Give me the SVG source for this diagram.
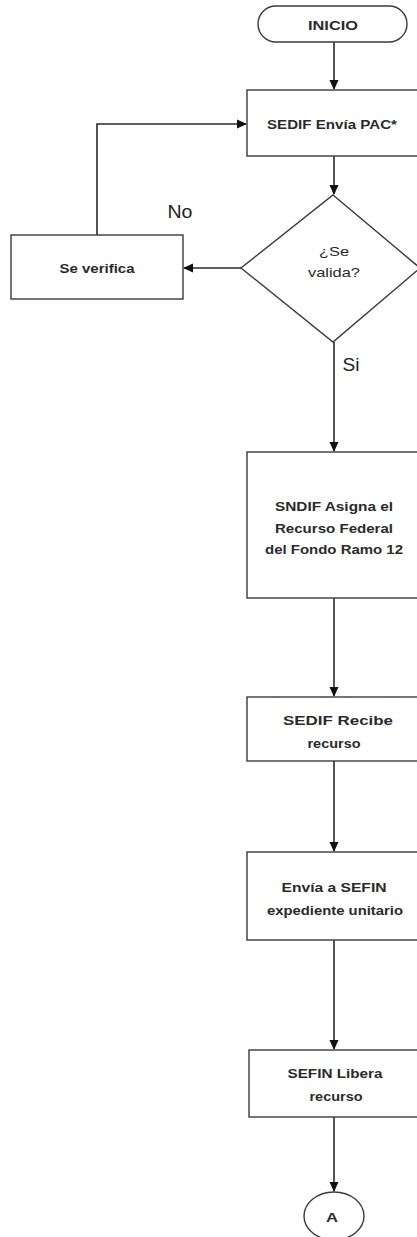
<svg xmlns="http://www.w3.org/2000/svg" width="417" height="1237" viewBox="0 0 417 1237">
<style>
.n{fill:#fff;stroke:#3a3a3a;stroke-width:1.4}
.t{font-family:"Liberation Sans",Arial,sans-serif;font-size:13px;fill:#2a2a2a;text-anchor:middle;dominant-baseline:central}
.b{font-weight:bold}
.l{font-family:"Liberation Sans",Arial,sans-serif;font-size:18px;fill:#222;text-anchor:middle;dominant-baseline:central}
.c{fill:none;stroke:#2a2a2a;stroke-width:1.6}
</style>
<defs>
<marker id="ah" markerWidth="10" markerHeight="10" refX="9" refY="5" orient="auto" markerUnits="userSpaceOnUse">
<path d="M0,0.5 L10,5 L0,9.5 Z" fill="#111"/>
</marker>
</defs>
<g id="connectors">
<path class="c" d="M334,42 V89" marker-end="url(#ah)"/>
<path class="c" d="M334,156 V194" marker-end="url(#ah)"/>
<path class="c" d="M241,268 H184" marker-end="url(#ah)"/>
<path class="c" d="M97,235 V124 H246" marker-end="url(#ah)"/>
<path class="c" d="M334,342 V451" marker-end="url(#ah)"/>
<path class="c" d="M334,598 V696" marker-end="url(#ah)"/>
<path class="c" d="M334,761 V851" marker-end="url(#ah)"/>
<path class="c" d="M334,940 V1049" marker-end="url(#ah)"/>
<path class="c" d="M334,1117 V1191" marker-end="url(#ah)"/>
</g>
<g id="inicio">
<rect class="n" x="258" y="6" width="149" height="36" rx="18" ry="18"/>
<text class="t b" x="333" y="25" textLength="50" lengthAdjust="spacingAndGlyphs">INICIO</text>
</g>
<g id="sedif-envia">
<rect class="n" x="247" y="90" width="180" height="66"/>
<text class="t b" x="332" y="124" textLength="130" lengthAdjust="spacingAndGlyphs">SEDIF Envía PAC*</text>
</g>
<g id="valida">
<polygon class="n" points="333,195 420,268 333,342 241,268"/>
<text class="t" x="334" y="251" textLength="30" lengthAdjust="spacingAndGlyphs">¿Se</text>
<text class="t" x="334" y="272" textLength="52" lengthAdjust="spacingAndGlyphs">valida?</text>
</g>
<g id="se-verifica">
<rect class="n" x="11" y="235" width="172" height="64"/>
<text class="t b" x="97" y="268" textLength="75" lengthAdjust="spacingAndGlyphs">Se verifica</text>
</g>
<text class="l" x="180" y="212" textLength="25" lengthAdjust="spacingAndGlyphs">No</text>
<text class="l" x="351" y="365" textLength="17" lengthAdjust="spacingAndGlyphs">Si</text>
<g id="sndif">
<rect class="n" x="247" y="452" width="180" height="146"/>
<text class="t b" x="334" y="506" textLength="118" lengthAdjust="spacingAndGlyphs">SNDIF Asigna el</text>
<text class="t b" x="334" y="528" textLength="118" lengthAdjust="spacingAndGlyphs">Recurso Federal</text>
<text class="t b" x="334" y="549" textLength="138" lengthAdjust="spacingAndGlyphs">del Fondo Ramo 12</text>
</g>
<g id="sedif-recibe">
<rect class="n" x="247" y="697" width="180" height="64"/>
<text class="t b" x="338" y="720" textLength="110" lengthAdjust="spacingAndGlyphs">SEDIF Recibe</text>
<text class="t b" x="334" y="743" textLength="53" lengthAdjust="spacingAndGlyphs">recurso</text>
</g>
<g id="envia-sefin">
<rect class="n" x="247" y="852" width="180" height="88"/>
<text class="t b" x="334" y="887" textLength="105" lengthAdjust="spacingAndGlyphs">Envía a SEFIN</text>
<text class="t b" x="335" y="910" textLength="136" lengthAdjust="spacingAndGlyphs">expediente unitario</text>
</g>
<g id="sefin-libera">
<rect class="n" x="249" y="1050" width="180" height="67"/>
<text class="t b" x="335" y="1073" textLength="95" lengthAdjust="spacingAndGlyphs">SEFIN Libera</text>
<text class="t b" x="336" y="1096" textLength="53" lengthAdjust="spacingAndGlyphs">recurso</text>
</g>
<g id="conector-a">
<ellipse class="n" cx="334" cy="1216" rx="30" ry="24"/>
<text class="t b" x="332" y="1217" textLength="12" lengthAdjust="spacingAndGlyphs">A</text>
</g>
</svg>
